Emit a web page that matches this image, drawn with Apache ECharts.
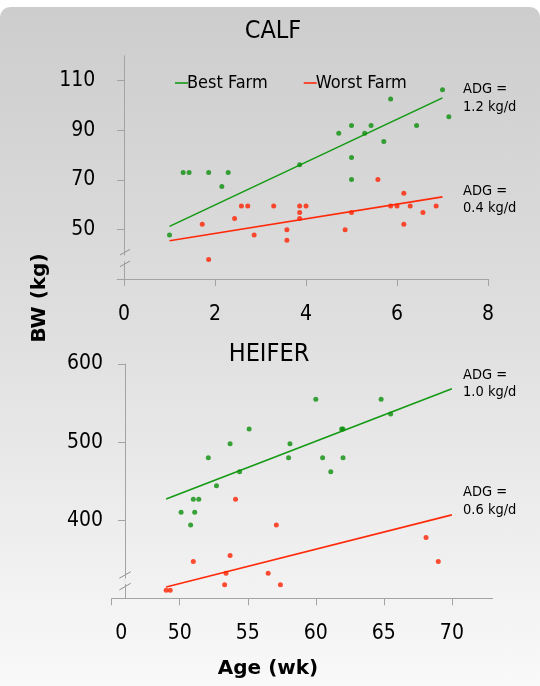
<!DOCTYPE html>
<html><head><meta charset="utf-8">
<script src="https://cdn.jsdelivr.net/npm/echarts@6/dist/echarts.min.js"></script>
<style>
html,body{margin:0;padding:0;background:#fff;}
#bg{position:absolute;left:0;top:7px;width:540px;height:679px;border-radius:10px 10px 0 0;background:linear-gradient(to bottom,#cdcdcd 0%,#dedede 45%,#f9f9f9 100%);}
#chart{position:absolute;left:0;top:0;width:540px;height:686px;}
</style></head><body><div id="bg"></div><div id="chart"></div>
<script>
// ---- data ----
const calfBest = [[1.0,47.7],[1.3,72.9],[1.43,72.9],[1.86,72.9],[2.15,67.3],[2.29,72.9],[3.86,76],[4.72,88.7],[5.0,91.9],[5.0,79],[5.0,70.1],[5.29,88.7],[5.43,91.9],[5.71,85.4],[5.86,102.5],[6.43,91.9],[7.0,106.3],[7.14,95.4]];
const calfWorst = [[1.72,52.1],[1.86,37.9],[2.43,54.4],[2.58,59.4],[2.72,59.4],[2.86,47.7],[3.29,59.4],[3.58,49.9],[3.58,45.6],[3.86,59.4],[3.86,56.8],[3.86,54.4],[4.0,59.4],[4.86,49.9],[5.0,56.8],[5.58,70.1],[5.86,59.4],[6.0,59.4],[6.15,64.6],[6.15,52.1],[6.29,59.4],[6.57,56.8],[6.86,59.4]];
const calfBestFit = [[1,51.2],[7,103]];
const calfWorstFit = [[1,45.4],[7,63.1]];
const heiferBest = [[50.1,410.3],[50.8,394],[51.0,426.9],[51.1,410.3],[51.4,426.9],[52.1,479.9],[52.7,444],[53.7,497.9],[54.4,461.9],[55.1,516.7],[58.0,479.9],[58.1,497.9],[60.0,555],[60.5,479.9],[61.1,461.9],[61.9,516.7],[62.0,516.7],[62.0,479.9],[64.8,555],[65.5,535.9]];
const heiferWorst = [[49.0,310.3],[49.3,310.3],[51.0,347],[53.3,317.5],[53.4,332],[53.7,354.7],[54.1,426.9],[56.5,332],[57.1,394],[57.4,317.5],[68.1,377.8],[69.0,347]];
const heiferBestFit = [[49,427.3],[70,568.3]];
const heiferWorstFit = [[49,314.5],[70,406.8]];
const calfXTicks = [0,2,4,6,8];
const calfYTicks = [50,70,90,110];
const heiferXTicks = [45,50,55,60,65,70];
const heiferXLabels = [45.7,50,55,60,65,70];
const heiferYTicks = [400,500,600];
const adgCalf = ['ADG =\n1.2 kg/d','ADG =\n0.4 kg/d'];
const adgHeifer = ['ADG =\n1.0 kg/d','ADG =\n0.6 kg/d'];
const names = ['Best Farm','Worst Farm'];

// ---- styles ----
const FF = "'DejaVu Sans Condensed','DejaVu Sans',sans-serif";
const GREEN = '#0b8e0b', RED = '#ff2200';
const GREEN_L = '#149a14', RED_L = '#ff2a0a';
const AX = '#a3a3a3';

function axisCommon(){
  return {
    axisLine:{lineStyle:{color:AX,width:1}},
    axisTick:{lineStyle:{color:AX},length:7},
    splitLine:{show:false},
    axisLabel:{color:'#000',fontSize:21,fontFamily:FF}
  };
}
function xA(idx,min,max,ticks,labels,fmt){
  const a = axisCommon();
  return Object.assign(a,{type:'value',gridIndex:idx,min:min,max:max,
    axisTick:Object.assign(a.axisTick,{customValues:ticks}),
    axisLabel:Object.assign(a.axisLabel,{customValues:labels,margin:25,formatter:fmt})});
}
function yA(idx,min,max,ticks,offset){
  const a = axisCommon();
  return Object.assign(a,{type:'value',gridIndex:idx,min:min,max:max,offset:offset||0,
    axisTick:Object.assign(a.axisTick,{customValues:ticks}),
    axisLabel:Object.assign(a.axisLabel,{customValues:ticks,margin:22})});
}
function scat(name,data,color,xi){
  return {name:name,type:'scatter',xAxisIndex:xi,yAxisIndex:xi,data:data,symbolSize:5,
    itemStyle:{color:color},z:3,silent:true};
}
function fit(name,data,color,xi){
  return {name:name,type:'line',xAxisIndex:xi,yAxisIndex:xi,data:data,symbol:'none',
    lineStyle:{color:color,width:1.6},itemStyle:{color:color},z:2,silent:true};
}
function adgText(txt,left,top){
  return {type:'text',left:left,top:top,style:{text:txt,fontSize:14.5,lineHeight:17.5,fontFamily:FF,fill:'#000'}};
}
function slash(x1,y1,x2,y2){
  return {type:'line',shape:{x1:x1,y1:y1,x2:x2,y2:y2},style:{stroke:'#8f8f8f',lineWidth:1}};
}

const chart = echarts.init(document.getElementById('chart'),null,{renderer:'canvas'});
chart.setOption({
  backgroundColor:'transparent',
  animation:false,
  title:[
    {text:'CALF',left:268,top:14,textAlign:'center',textStyle:{fontSize:25,fontWeight:'normal',fontFamily:FF,color:'#000'}},
    {text:'HEIFER',left:264,top:337,textAlign:'center',textStyle:{fontSize:25,fontWeight:'normal',fontFamily:FF,color:'#000'}}
  ],
  legend:{data:names.map(n=>({name:n,icon:'rect'})),left:170,top:69,itemWidth:13,itemHeight:1.6,itemGap:36,
    textStyle:{fontSize:18,fontFamily:FF,color:'#000',lineHeight:18,padding:[0,0,0,-6]},selectedMode:false},
  grid:[
    {left:117.2,right:52,top:55.7,bottom:407,outerBoundsMode:'none',containLabel:false},
    {left:111.7,right:47.3,top:364,bottom:87.7,outerBoundsMode:'none',containLabel:false}
  ],
  xAxis:[
    xA(0,-0.15,8,calfXTicks,calfXTicks,v=>String(v)),
    xA(1,45,73,heiferXTicks,heiferXLabels,v=>(v<50?'0':String(v)))
  ],
  yAxis:[
    yA(0,30,120,calfYTicks,0),
    yA(1,300,600,heiferYTicks,-13.3)
  ],
  series:[
    fit(names[0],calfBestFit,GREEN_L,0),
    fit(names[1],calfWorstFit,RED_L,0),
    scat(names[0],calfBest,GREEN,0),
    scat(names[1],calfWorst,RED,0),
    fit(names[0],heiferBestFit,GREEN_L,1),
    fit(names[1],heiferWorstFit,RED_L,1),
    scat(names[0],heiferBest,GREEN,1),
    scat(names[1],heiferWorst,RED,1)
  ],
  graphic:[
    adgText(adgCalf[0],463,80.5),
    adgText(adgCalf[1],463,182),
    adgText(adgHeifer[0],463,366),
    adgText(adgHeifer[1],463,483.5),
    {type:'text',x:268,y:669,style:{text:'Age (wk)',fontSize:20,fontWeight:'bold',fontFamily:"'DejaVu Sans',sans-serif",fill:'#000',align:'center',verticalAlign:'middle'}},
    {type:'text',x:40,y:298,rotation:Math.PI/2,style:{text:'BW (kg)',fontSize:20,fontWeight:'bold',fontFamily:"'DejaVu Sans',sans-serif",fill:'#000',align:'center',verticalAlign:'middle'}},
    {type:'rect',shape:{x:122.5,y:255.5,width:3,height:6},style:{fill:'#dadada'},z:10},
    slash(120,255,130,249.3), slash(120,266.7,130,261),
    {type:'rect',shape:{x:123.5,y:578.5,width:3,height:5.5},style:{fill:'#ececec'},z:10},
    slash(119.3,578.3,130.7,571.7), slash(119.3,590,130.7,583.3)
  ]
});
</script></body></html>
